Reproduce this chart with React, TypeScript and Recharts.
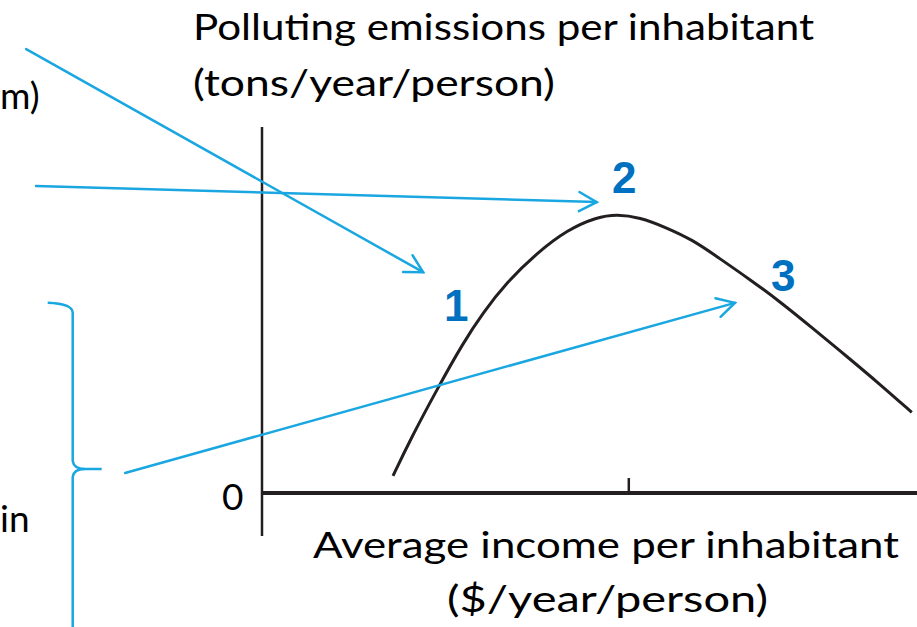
import React from "react";
import { LineChart, Line, XAxis, YAxis, ReferenceLine } from "recharts";

// Kuznets-style curve: income (x) vs polluting emissions (y), both on a 0–100 scale.
const incomeX = [20, 22.6, 26.9, 30.7, 33.7, 37.4, 42, 46.6, 51.1, 54.2, 57.7, 61.5, 65.8, 69.5, 74.5, 79.1, 84.1, 89.3, 94.4, 99.2];
const emissionsY = [4.7, 14.5, 29, 41.1, 49.3, 57.8, 65.8, 72.1, 75.6, 76.4, 75.5, 72.9, 69.3, 64.7, 58.5, 52.4, 45.1, 37.4, 29.7, 22.1];

// annotation arrows, [x, y] start → end in the same data units (start lies off the plot)
const arrowStarts = [[-36, 121.6], [-34.5, 84.1], [-20.9, 5.5]];
const arrowEnds = [[24.6, 60.5], [51.1, 79.7], [72.2, 52.1]];

const stageLabels = ["1", "2", "3"];

const curve = incomeX.map((x, i) => ({ x, y: emissionsY[i] }));

const INK = "#231F20";
const ARROW = "#1AA7E1";
const STAGE = "#0070C0";
const FONT = "Lato, 'Open Sans', sans-serif";

function Arrow(p: any) {
  const { x1, y1, x2, y2 } = p;
  const a = Math.atan2(y2 - y1, x2 - x1);
  const len = 20;
  const spread = 0.5;
  const h1x = x2 - len * Math.cos(a - spread);
  const h1y = y2 - len * Math.sin(a - spread);
  const h2x = x2 - len * Math.cos(a + spread);
  const h2y = y2 - len * Math.sin(a + spread);
  return (
    <g fill="none" stroke={ARROW} strokeWidth={2.5} strokeLinecap="round">
      <line x1={x1} y1={y1} x2={x2} y2={y2} />
      <polyline points={`${h1x},${h1y} ${x2},${y2} ${h2x},${h2y}`} />
    </g>
  );
}

// upper half of the brace: hook at the top, cusp at the bottom
function BraceTop(p: any) {
  const { x1, y1, y2 } = p;
  return (
    <path
      d={`M${x1 - 25},${y1 - 4} Q${x1},${y1 - 3} ${x1},${y1 + 6} L${x1},${y2 - 8} Q${x1 + 1},${y2} ${x1 + 12},${y2} L${x1 + 29},${y2}`}
      fill="none"
      stroke={ARROW}
      strokeWidth={2.5}
    />
  );
}

function BraceBottom(p: any) {
  const { x1, y1, y2 } = p;
  return (
    <path
      d={`M${x1 + 12},${y1} Q${x1 + 1},${y1} ${x1},${y1 + 8} L${x1},${y2}`}
      fill="none"
      stroke={ARROW}
      strokeWidth={2.5}
    />
  );
}

function Stroke(p: any) {
  return <line x1={p.x1} y1={p.y1} x2={p.x2} y2={p.y2} stroke={INK} strokeWidth={p.w} />;
}

// text lines: [text, left x, baseline y, width (0 = natural)]
const captions: [string, number, number, number][] = [
  ["Polluting emissions per inhabitant", 193, 40, 621],
  ["(tons/year/person)", 193, 96, 362],
  ["m)", 0, 109, 0],
  ["in", 0, 532, 0],
  ["0", 222, 510, 0],
  ["Average income per inhabitant", 313, 558, 586],
  ["($/year/person)", 447, 612, 321],
];

export default function App() {
  return (
    <div style={{ position: "absolute", left: 0, top: 0, width: 917, height: 627, background: "#fff", overflow: "hidden" }}>
      <LineChart
        width={917}
        height={627}
        data={curve}
        margin={{ top: 128, right: 0, bottom: 134, left: 262 }}
      >
        <XAxis type="number" dataKey="x" domain={[0, 100]} hide />
        <YAxis type="number" domain={[0, 100]} hide />
        {/* axes: y-axis runs a bit below the x-axis */}
        <ReferenceLine
          segment={[{ x: 0, y: -11.8 }, { x: 0, y: 100.3 }]}
          ifOverflow="visible"
          shape={(p: any) => <Stroke {...p} w={2.5} />}
        />
        <ReferenceLine
          segment={[{ x: 0, y: 0 }, { x: 100, y: 0 }]}
          ifOverflow="visible"
          shape={(p: any) => <Stroke {...p} w={4} />}
        />
        <ReferenceLine
          segment={[{ x: 56, y: 0 }, { x: 56, y: 4.1 }]}
          ifOverflow="visible"
          shape={(p: any) => <Stroke {...p} w={2.5} />}
        />
        <Line
          type="basis"
          dataKey="y"
          stroke={INK}
          strokeWidth={3}
          dot={false}
          isAnimationActive={false}
        />
        {arrowStarts.map((s, i) => (
          <ReferenceLine
            key={i}
            segment={[{ x: s[0], y: s[1] }, { x: arrowEnds[i][0], y: arrowEnds[i][1] }]}
            ifOverflow="visible"
            shape={(p: any) => <Arrow {...p} />}
          />
        ))}
        <ReferenceLine
          segment={[{ x: -28.9, y: 51 }, { x: -28.9, y: 6.6 }]}
          ifOverflow="visible"
          shape={(p: any) => <BraceTop {...p} />}
        />
        <ReferenceLine
          segment={[{ x: -28.9, y: 6.6 }, { x: -28.9, y: -40 }]}
          ifOverflow="visible"
          shape={(p: any) => <BraceBottom {...p} />}
        />
      </LineChart>

      <svg
        width={917}
        height={627}
        style={{ position: "absolute", left: 0, top: 0, pointerEvents: "none" }}
      >
        {captions.map(([t, x, y, w]) => (
          <text
            key={t}
            x={x}
            y={y}
            textLength={w || undefined}
            lengthAdjust={w ? "spacingAndGlyphs" : undefined}
            fontFamily={FONT}
            fontSize={37}
            fill="#000"
          >
            {t}
          </text>
        ))}
        {[[444, 321], [612, 193], [771, 291]].map((pos, i) => (
          <text
            key={i}
            x={pos[0]}
            y={pos[1]}
            fontFamily="'Liberation Sans', Arial, sans-serif"
            fontWeight={700}
            fontSize={44}
            fill={STAGE}
          >
            {stageLabels[i]}
          </text>
        ))}
      </svg>
    </div>
  );
}
